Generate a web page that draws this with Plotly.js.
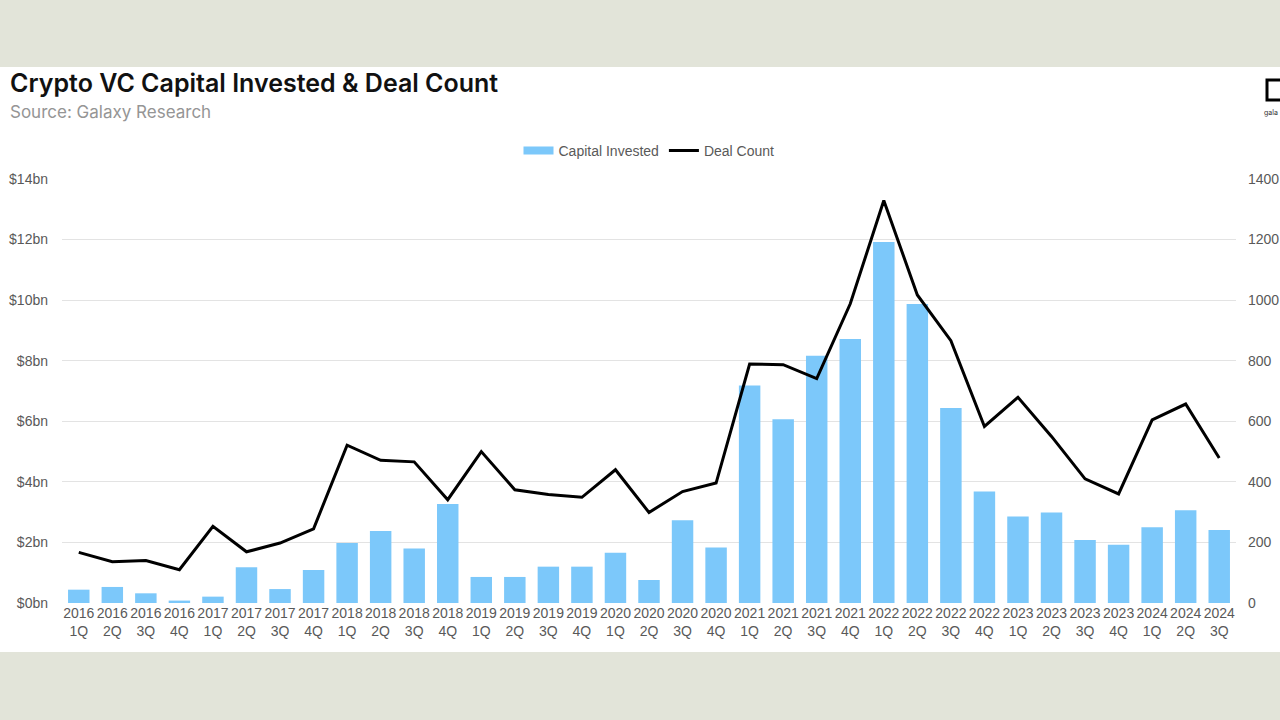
<!DOCTYPE html>
<html>
<head>
<meta charset="utf-8">
<script src="https://cdn.plot.ly/plotly-3.0.1.min.js"></script>
<style>
  html, body { margin: 0; padding: 0; background: #e2e4d9; width: 1280px; height: 720px; overflow: hidden; }
  #wrap { position: absolute; left: 0; top: 67px; width: 1280px; height: 585px; background: #ffffff; }
  #chart { width: 1280px; height: 585px; }
</style>
</head>
<body>
<div id="wrap"><div id="chart"></div></div>
<script>
const years = ["2016","2016","2016","2016","2017","2017","2017","2017","2018","2018","2018","2018",
  "2019","2019","2019","2019","2020","2020","2020","2020","2021","2021","2021","2021",
  "2022","2022","2022","2022","2023","2023","2023","2023","2024","2024","2024"];
const quarters = ["1Q","2Q","3Q","4Q","1Q","2Q","3Q","4Q","1Q","2Q","3Q","4Q",
  "1Q","2Q","3Q","4Q","1Q","2Q","3Q","4Q","1Q","2Q","3Q","4Q",
  "1Q","2Q","3Q","4Q","1Q","2Q","3Q","4Q","1Q","2Q","3Q"];
const categories = years.map((y, i) => y + "<br>" + quarters[i]);

// Capital invested, $bn
const capitalInvested = [0.44, 0.53, 0.32, 0.08, 0.21, 1.18, 0.46, 1.09, 1.98, 2.38, 1.80, 3.27,
  0.86, 0.86, 1.20, 1.20, 1.66, 0.76, 2.73, 1.83, 7.18, 6.07, 8.16, 8.72,
  11.92, 9.87, 6.44, 3.68, 2.86, 2.99, 2.08, 1.92, 2.50, 3.06, 2.41];

// Deal count
const dealCount = [167, 136, 140, 110, 253, 169, 198, 245, 521, 471, 466, 341,
  500, 374, 358, 349, 440, 299, 368, 396, 789, 787, 741, 988,
  1329, 1017, 866, 583, 679, 550, 410, 360, 605, 657, 479];

const leftTickVals = [0, 2, 4, 6, 8, 10, 12, 14];
const leftTickText = ["$0bn", "$2bn", "$4bn", "$6bn", "$8bn", "$10bn", "$12bn", "$14bn"];
const rightTickVals = [0, 200, 400, 600, 800, 1000, 1200, 1400];

const barColor = "#7cc8fa";
const tickFont = { family: "Liberation Sans, Arial, sans-serif", size: 14, color: "#595959" };

const traces = [
  {
    // legend-only entry so the legend swatch is a wide band as in the original
    type: "scatter",
    mode: "lines",
    name: "Capital Invested",
    x: [null],
    y: [null],
    line: { color: barColor, width: 8 },
    yaxis: "y",
    showlegend: true,
    legendgroup: "cap"
  },
  {
    type: "bar",
    name: "Capital Invested",
    x: categories,
    y: capitalInvested,
    marker: { color: barColor },
    yaxis: "y",
    showlegend: false,
    legendgroup: "cap"
  },
  {
    type: "scatter",
    mode: "lines",
    name: "Deal Count",
    x: categories,
    y: dealCount,
    line: { color: "#000000", width: 3 },
    yaxis: "y2"
  }
];

const layout = {
  width: 1280,
  height: 585,
  paper_bgcolor: "#ffffff",
  plot_bgcolor: "#ffffff",
  margin: { l: 62, r: 44, t: 112, b: 49 },
  bargap: 0.36,
  showlegend: true,
  legend: {
    orientation: "h",
    x: 0.5, xanchor: "center",
    y: 1.066, yanchor: "middle",
    font: tickFont,
    traceorder: "normal"
  },
  xaxis: {
    type: "category",
    tickfont: tickFont,
    showgrid: false,
    showline: false,
    ticks: "",
    tickangle: 0,
    range: [-0.5, 34.5]
  },
  yaxis: {
    range: [0, 14],
    tickvals: leftTickVals,
    ticktext: leftTickText,
    tickfont: tickFont,
    gridcolor: "#e3e3e3",
    gridwidth: 1,
    zeroline: false,
    showline: false,
    ticks: "",
    ticklabelstandoff: 13
  },
  yaxis2: {
    range: [0, 1400],
    tickvals: rightTickVals,
    overlaying: "y",
    side: "right",
    tickfont: tickFont,
    showgrid: false,
    zeroline: false,
    showline: false,
    ticks: "",
    ticklabelstandoff: 11
  },
  annotations: [
    {
      text: "Crypto VC Capital Invested & Deal Count",
      xref: "paper", yref: "paper",
      x: (8 - 62) / 1174, y: 1 + (112 - 16) / 424,
      xanchor: "left", yanchor: "middle",
      showarrow: false,
      font: { family: "Inter, sans-serif", size: 25, color: "#111111", weight: 600 }
    },
    {
      text: "Source: Galaxy Research",
      xref: "paper", yref: "paper",
      x: (8 - 62) / 1174, y: 1 + (112 - 45) / 424,
      xanchor: "left", yanchor: "middle",
      showarrow: false,
      font: { family: "Inter, sans-serif", size: 17, color: "#959595" }
    },
    {
      text: "gala",
      xref: "paper", yref: "paper",
      x: 1 + (1262 - 1236) / 1174, y: 1 + (112 - 45) / 424,
      xanchor: "left", yanchor: "middle",
      showarrow: false,
      font: { family: "Inter, sans-serif", size: 7, color: "#333333" }
    }
  ],
  shapes: [
    {
      type: "rect",
      xref: "paper", yref: "paper",
      x0: 1 + (1267 - 1236) / 1174, x1: 1 + (1290 - 1236) / 1174,
      y0: 1 + (112 - 33) / 424, y1: 1 + (112 - 13) / 424,
      line: { color: "#000000", width: 3 }
    }
  ]
};

Plotly.newPlot("chart", traces, layout, { displayModeBar: false, staticPlot: true });
</script>
</body>
</html>
